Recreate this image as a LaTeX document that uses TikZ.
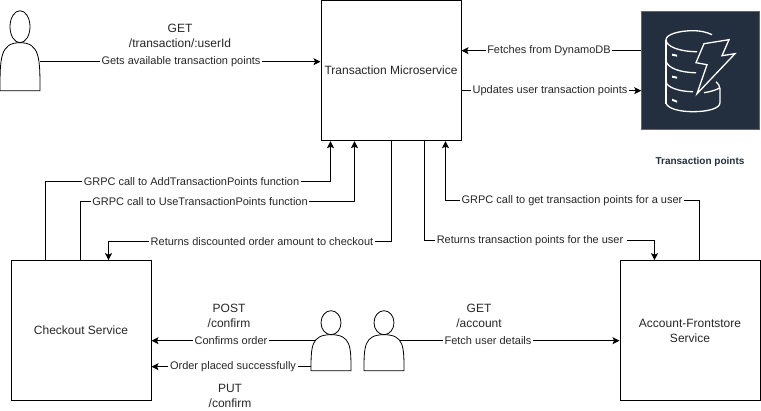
\documentclass[tikz,border=0pt]{standalone}
\usepackage{fontspec}
\setmainfont{Liberation Sans}
\usetikzlibrary{arrows.meta}
\definecolor{dynamoblue}{HTML}{232F3E}
\tikzset{
  every node/.style={font=\fontsize{11}{14.5}\selectfont,text=black!85},
  block/.style={draw,font=\fontsize{12}{15}\selectfont,line width=1pt,minimum width=140pt,minimum height=140pt,align=center,inner sep=0pt},
  tag/.style={inner sep=1.5pt,align=center},
  route/.style={font=\fontsize{12}{15}\selectfont,inner sep=1.5pt,align=center},
  flow/.style={line width=1pt,-{Stealth[length=7pt,width=7pt,inset=1.5pt]}},
  icon/.style={draw=white,line width=1.3pt},
  pics/person/.style={code={
    \draw[line width=.8pt] (10,0.2*#1) arc[x radius=10,y radius=0.2*#1,start angle=180,end angle=540];
    \draw[line width=.8pt] (0,#1) .. controls (0,0.6*#1) and (0,0.4*#1) .. (20,0.4*#1)
      .. controls (40,0.4*#1) and (40,0.6*#1) .. (40,#1) -- cycle;
    \coordinate (-e) at (40,0.5*#1);
    \coordinate (-w) at (0,0.5*#1);
  }},
}
\begin{document}
\begin{tikzpicture}[x=1pt,y=-1pt]
\useasboundingbox (0,-0.7) rectangle (761,410.3);
% services
\node[block] (txn) at (391,70) {Transaction Microservice};
\node[block] (checkout) at (81,330) {Checkout Service};
\node[block] (account) at (690,330) {Account-Frontstore\\Service};
\node[draw=gray!80!black,line width=.5pt,fill=dynamoblue,minimum size=118pt,inner sep=0pt] (dynamo) at (700.5,70) {};
\node[font=\fontsize{10}{12}\selectfont\bfseries,text=dynamoblue] (dbname) at (700,161) {Transaction points};
% people
\pic (reader) at (0,10) {person=80};
\pic (buyer) at (311,310) {person=60};
\pic (viewer) at (364,310) {person=60};
% the icon
\draw[icon] (712,34) .. controls (706,31) and (699,30) .. (693,30) .. controls (678,30) and (666,34) .. (666,39)
  .. controls (666,46) and (680,51) .. (697,51);
\draw[icon] (666,39) -- (666,103);
\draw[icon] (666,60) .. controls (667,67) and (680,72) .. (696,72);
\draw[icon] (666,81) .. controls (667,87) and (680,91) .. (693,91);
\draw[icon] (666,102) .. controls (667,108) and (680,111) .. (693,111) .. controls (707,111) and (720,108) .. (720,102)
  -- (720,88) .. controls (720,85) and (718,83) .. (716,81);
\draw[icon] (704,92) .. controls (711,91) and (717,89) .. (720,87);
\draw[icon,line join=miter] (704,43) -- (729,39) -- (722,55) -- (735,53) -- (697,93) -- (707,64) -- (696,62) -- cycle;
\fill[white] (672,53) -- (677,54) -- (677,56) -- (672,55) -- cycle;
\fill[white] (672,75) -- (677,76) -- (677,78) -- (672,77) -- cycle;
\fill[white] (672,98) -- (677,100) -- (677,102) -- (672,100) -- cycle;
% labels
\node[route] (getpath) at (180,35) {GET\\/transaction/:userId};
\node[tag] (gets) at (181,61) {Gets available transaction points};
\node[tag] (fetches) at (549,50) {Fetches from DynamoDB};
\node[tag] (updates) at (550,90) {Updates user transaction points};
\node[tag] (addcall) at (191.5,181) {GRPC call to AddTransactionPoints function};
\node[tag] (usecall) at (200,201) {GRPC call to UseTransactionPoints function};
\node[tag] (discount) at (262,241) {Returns discounted order amount to checkout};
\node[tag] (pointscall) at (572,200) {GRPC call to get transaction points for a user};
\node[tag] (points) at (531,240) {Returns transaction points for the user\hspace{2pt}};
\node[route] (postpath) at (229,315) {POST\\/confirm};
\node[tag] (confirms) at (231,340) {Confirms order};
\node[tag] (placed) at (233,366) {Order placed successfully};
\node[route] (putpath) at (230,395) {PUT\\/confirm};
\node[route] (accpath) at (479,315) {GET\\/account};
\node[tag] (details) at (488,340) {Fetch user details};
% connectors
\draw[line width=1pt] (reader-e |- gets) -- (gets);
\draw[flow] (gets) -- (gets -| txn.west);
\draw[line width=1pt] (fetches -| dynamo.west) -- (fetches);
\draw[flow] (fetches) -- (fetches -| txn.east);
\draw[line width=1pt] (updates -| txn.east) -- (updates);
\draw[flow] (updates) -- (updates -| dynamo.west);
\draw[flow] ([xshift=35pt]checkout.north west) |- (addcall) -| ([xshift=10pt]txn.south west);
\draw[flow] ([xshift=70pt]checkout.north west) |- (usecall) -| ([xshift=34pt]txn.south west);
\draw[flow] (txn.south) |- (discount) -| ([xshift=98pt]checkout.north west);
\draw[flow] ([xshift=80pt]account.north west) |- (pointscall) -| ([xshift=125pt]txn.south west);
\draw[flow] ([xshift=104pt]txn.south west) |- (points) -| ([xshift=35pt]account.north west);
\draw[line width=1pt] ([xshift=4pt]buyer-w |- confirms) -- (confirms);
\draw[flow] (confirms) -- (confirms -| checkout.east);
\draw[line width=1pt] (buyer-w |- placed) -- (placed);
\draw[flow] (placed) -- (placed -| checkout.east);
\draw[line width=1pt] ([xshift=-4pt]viewer-e |- details) -- (details);
\draw[flow] (details) -- (details -| account.west);
\end{tikzpicture}
\end{document}
